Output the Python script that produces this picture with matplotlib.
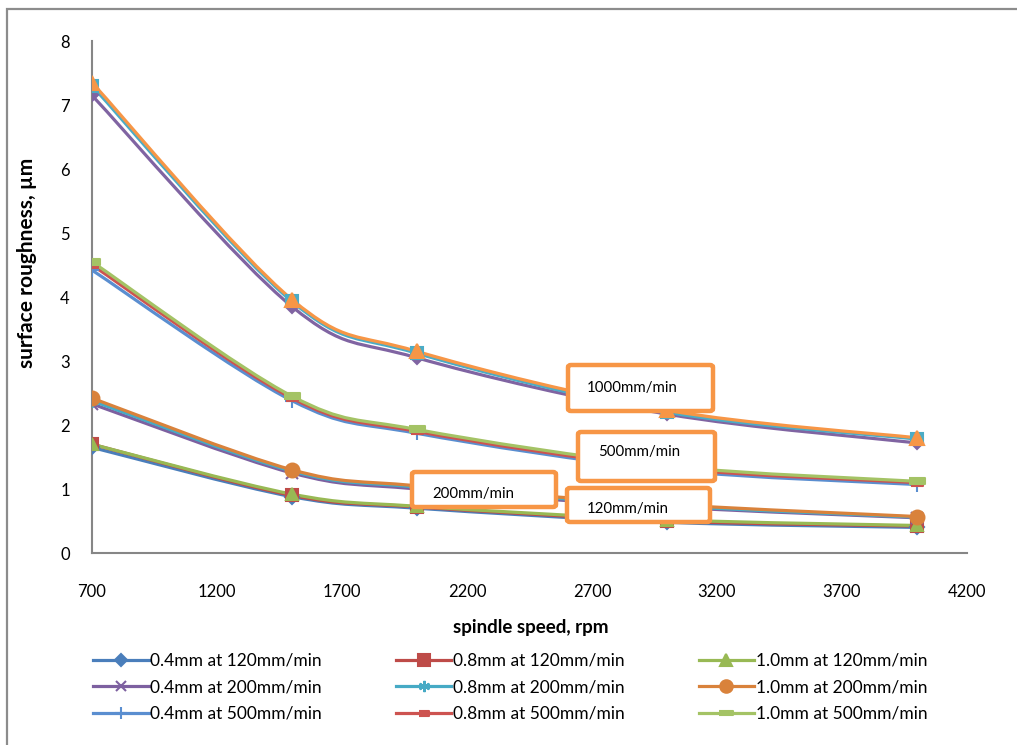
import numpy as np
import matplotlib.pyplot as plt
from matplotlib.path import Path
from matplotlib.patches import PathPatch, FancyBboxPatch, Rectangle
from matplotlib.lines import Line2D

plt.rcParams['font.family'] = ['Lato', 'DejaVu Sans']

speed = [700, 1500, 2000, 3000, 4000]

# surface roughness (um) per depth of cut and feed rate
r04_120 = [1.65, 0.88, 0.70, 0.48, 0.40]
r08_120 = [1.70, 0.90, 0.72, 0.50, 0.42]
r10_120 = [1.70, 0.92, 0.73, 0.52, 0.43]
r04_200 = [2.33, 1.25, 1.00, 0.72, 0.55]
r08_200 = [2.38, 1.28, 1.03, 0.74, 0.56]
r10_200 = [2.42, 1.30, 1.05, 0.76, 0.57]
r04_500 = [4.42, 2.38, 1.87, 1.30, 1.07]
r08_500 = [4.50, 2.42, 1.90, 1.33, 1.10]
r10_500 = [4.55, 2.45, 1.93, 1.36, 1.12]
r04_1000 = [7.15, 3.85, 3.05, 2.17, 1.72]
r08_1000 = [7.30, 3.93, 3.12, 2.20, 1.78]
r10_1000 = [7.35, 3.96, 3.15, 2.23, 1.80]

labels = ['0.4mm at 120mm/min', '0.8mm at 120mm/min', '1.0mm at 120mm/min',
          '0.4mm at 200mm/min', '0.8mm at 200mm/min', '1.0mm at 200mm/min',
          '0.4mm at 500mm/min', '0.8mm at 500mm/min', '1.0mm at 500mm/min',
          None, None, None]
series = [r04_120, r08_120, r10_120, r04_200, r08_200, r10_200,
          r04_500, r08_500, r10_500, r04_1000, r08_1000, r10_1000]

box_text = ['1000mm/min', '500mm/min', '200mm/min', '120mm/min']

colors = ['#4A7EBB', '#BE4B48', '#98B954', '#7D60A0', '#46AAC5', '#D9823B',
          '#5A8ED0', '#CD5350', '#A4C365', '#8064A2', '#4BACC6', '#F79646']
dash_long = [(-1, -0.35), (1, -0.35), (1, 0.35), (-1, 0.35)]
dash_short = [(-0.6, -0.3), (0.6, -0.3), (0.6, 0.3), (-0.6, 0.3)]
markers = ['D', 's', '^', 'x', (6, 2, 0), 'o', '+', dash_short, dash_long, 'D', 's', '^']
msizes = [7, 9, 9, 8, 9, 10, 10, 8, 11, 6, 9, 10]


def smooth_path(xs, ys):
    # bezier segments with catmull-rom tangents, like excel "smoothed line"
    p = np.column_stack([xs, ys]).astype(float)
    n = len(p)
    verts = [p[0]]
    codes = [Path.MOVETO]
    for i in range(n - 1):
        p0 = p[i - 1] if i > 0 else p[i]
        p3 = p[i + 2] if i + 2 < n else p[i + 1]
        c1 = p[i] + (p[i + 1] - p0) / 6
        c2 = p[i + 1] - (p3 - p[i]) / 6
        verts += [c1, c2, p[i + 1]]
        codes += [Path.CURVE4] * 3
    return Path(verts, codes)


fig = plt.figure(figsize=(10.17, 7.45), dpi=100)
ax = fig.add_axes([92 / 1017, 1 - 553 / 745, (967 - 92) / 1017, (553 - 41) / 745])

handles = []
for i, ys in enumerate(series):
    ax.add_patch(PathPatch(smooth_path(speed, ys), fill=False, edgecolor=colors[i],
                           lw=2.3, zorder=2 + i * 0.01, capstyle='round'))
    ax.plot(speed, ys, linestyle='none', marker=markers[i], ms=msizes[i],
            color=colors[i], mfc=colors[i], mew=1.5, zorder=3 + i * 0.01)
    handles.append(Line2D([], [], color=colors[i], lw=2.3, marker=markers[i],
                          ms=msizes[i] * 0.9, mew=1.5))

ax.set_xlim(700, 4200)
ax.set_ylim(0, 8)
ax.set_xticks(np.arange(700, 4201, 500))
ax.set_yticks(np.arange(0, 9, 1))
for s in ['top', 'right']:
    ax.spines[s].set_visible(False)
for s in ['left', 'bottom']:
    ax.spines[s].set_color('#868686')
    ax.spines[s].set_linewidth(1.5)
ax.tick_params(axis='both', length=0, labelsize=12, colors='black')
ax.tick_params(axis='x', pad=22)
ax.tick_params(axis='y', pad=16)

fig.text(27 / 1017, 1 - 263 / 745, 'surface roughness, µm', rotation=90,
         ha='center', va='center', fontsize=15, fontweight='bold')
fig.text(531 / 1017, 1 - 627 / 745, 'spindle speed, rpm', ha='center', va='center',
         fontsize=13.5, fontweight='bold')

# annotation boxes (pixel positions of the reference)
boxes = [(568, 365, 713, 411, 587, 388),
         (578, 432, 715, 481, 598, 452),
         (412, 472, 556, 507, 432, 494),
         (567, 488, 710, 522, 587, 509)]
for t, (x0, y0, x1, y1, tx, ty) in zip(box_text, boxes):
    fig.patches.append(FancyBboxPatch((x0 / 1017, 1 - y1 / 745), (x1 - x0) / 1017,
                                      (y1 - y0) / 745, boxstyle='round,pad=0,rounding_size=0.003',
                                      transform=fig.transFigure, facecolor='white',
                                      edgecolor='#F79646', lw=3.2, zorder=10))
    fig.text(tx / 1017, 1 - ty / 745, t, ha='left', va='center', fontsize=10.8, zorder=11)

order = [0, 3, 6, 1, 4, 7, 2, 5, 8]
fig.legend([handles[k] for k in order], [labels[k] for k in order], ncol=3,
           loc='upper left', bbox_to_anchor=(93 / 1017, 1 - 653 / 745), frameon=False,
           fontsize=12.5, handlelength=3.2, handletextpad=0.1, columnspacing=4.25,
           labelspacing=0.6, borderaxespad=0, borderpad=0)

# chart area border
fig.patches.append(Rectangle((7 / 1017, -0.1), 1.2, 1 - 9 / 745 + 0.1,
                             transform=fig.transFigure, fill=False,
                             edgecolor='#8C8C8C', lw=1.6, zorder=0))

fig.savefig('out.png', dpi=100)
